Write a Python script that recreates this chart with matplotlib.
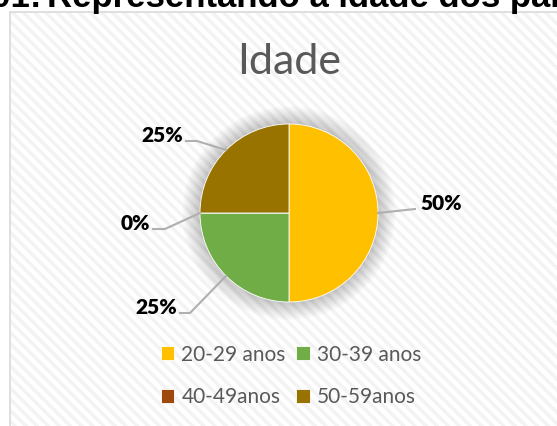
import matplotlib.pyplot as plt
from matplotlib.patches import Circle, Rectangle
import numpy as np

plt.rcParams['font.family'] = ['Lato', 'DejaVu Sans']
plt.rcParams['hatch.linewidth'] = 2.5

# dados
faixas = ['20-29 anos', '30-39 anos', '40-49anos', '50-59anos']
valores = [2, 1, 0, 1]
cores = ['#FFC000', '#70AD47', '#9E480E', '#997300']

W, H = 557, 426
fig = plt.figure(figsize=(W / 100, H / 100), dpi=100)
ax = fig.add_axes([0, 0, 1, 1])

# fundo com listras diagonais e borda do gráfico
ax.add_patch(Rectangle((9.5, 11.5), 600, 500, facecolor='white',
                       edgecolor='#d9d9d9', lw=1.2, zorder=0))
ax.add_patch(Rectangle((10.5, 12.5), 600, 500, facecolor='none',
                       edgecolor='#f3f3f3', hatch='\\\\\\', lw=0, zorder=0.5))

# título cortado no topo
ax.text(41, 7, 'Gráfico 01:', fontsize=25, fontweight='bold', ha='right',
        va='baseline', family='Liberation Sans', color='black')
ax.text(47, 7, 'Representando a idade dos participantes', fontsize=25,
        fontweight='bold', ha='left', va='baseline', family='Liberation Sans',
        color='black')

ax.text(289, 62, 'Idade', fontsize=31, color='#595959', ha='center', va='center')

cx, cy, r = 289, 213, 89

# sombra suave
for k in range(18, 0, -1):
    ax.add_patch(Circle((cx, cy), r + k, facecolor='#000000', alpha=0.011,
                        edgecolor='none', zorder=1))

wedges, _ = ax.pie(valores, colors=cores, startangle=90, counterclock=False,
                   center=(cx, cy), radius=r, frame=True,
                   wedgeprops=dict(edgecolor='white', linewidth=0.6, zorder=2))
# o eixo y é invertido: desenhar com ângulos espelhados
for w in wedges:
    t1, t2 = w.theta1, w.theta2
    w.set_theta1(-t2)
    w.set_theta2(-t1)

# rótulos com linhas de chamada
total = sum(valores)
cotovelo = [(415, 209), (190, 313), (165, 229), (197, 141)]
fim = [(415, 209), (180, 313), (153, 229), (186, 141)]
ang = []
a0 = 90
for v in valores:
    a1 = a0 - v / total * 360
    ang.append(np.deg2rad((a0 + a1) / 2))
    a0 = a1
for i, v in enumerate(valores):
    px = cx + r * np.cos(ang[i])
    py = cy - r * np.sin(ang[i])
    ex, ey = cotovelo[i]
    fx, fy = fim[i]
    ax.plot([px, ex, fx], [py, ey, fy], color='#afafaf', lw=1.5, zorder=3)
    txt = '%d%%' % round(v / total * 100)
    if fx > cx:
        ax.text(fx + 5, fy - 5, txt, fontsize=15, fontweight='heavy', ha='left', va='center')
    else:
        ax.text(fx - 3, fy - 6, txt, fontsize=15, fontweight='heavy', ha='right', va='center')

ordem = [0, 2, 1, 3]  # legenda preenchida por linhas
leg = ax.legend([wedges[i] for i in ordem], [faixas[i] for i in ordem], ncol=2,
                loc='center', bbox_to_anchor=(291 / W, 1 - 376 / H),
                frameon=False, fontsize=15, labelcolor='#595959', handlelength=0.65,
                handleheight=0.65, handletextpad=0.35, columnspacing=0.5, labelspacing=1.1)

ax.set_xlim(0, W)
ax.set_ylim(H, 0)
ax.set_aspect('auto')
ax.axis('off')

fig.savefig('out.png', dpi=100)
